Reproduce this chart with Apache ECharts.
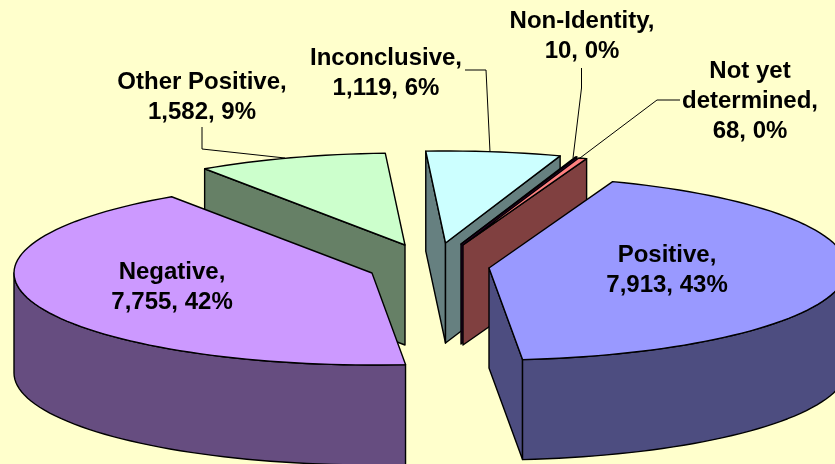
<!DOCTYPE html>
<html>
<head>
<meta charset="utf-8">
<style>
	html, body { margin: 0; padding: 0; background: #ffffcc; }
	#main { width: 835px; height: 464px; }
</style>
<script src="https://cdn.jsdelivr.net/npm/echarts@6/dist/echarts.min.js"></script>
</head>
<body>
<div id="main"></div>
<script>
	// chart values, clockwise from the first slice
	var categories = ['Positive', 'Negative', 'Other Positive', 'Inconclusive', 'Non-Identity', 'Not yet\ndetermined'];
	var values = [7913, 7755, 1582, 1119, 10, 68];

	// look of the slices, same order as categories
	var topColors = ['#9999ff', '#cc99ff', '#ccffcc', '#ccffff', '#660066', '#ff8080'];
	var sideColors = ['#4d4d80', '#664d80', '#668066', '#668080', '#330033', '#804040'];
	var apexX = [489, 372, 405, 445.5, 461, 463];
	var apexY = [268, 273, 245, 243, 244, 245];
	var labelX = [667, 172, 202, 386, 582, 750];
	var labelY = [240, 257, 67, 43, 6, 56];
	var leaderLines = [
		null,
		null,
		[[202, 127], [202, 149], [285, 158]],
		[[465, 70], [486, 70], [490, 152]],
		[[581.5, 68], [581.5, 88], [573, 158]],
		[[680, 100], [657, 100], [580, 158]]
	];
	// slices further back are painted first
	var drawOrder = [2, 3, 4, 5, 1, 0];

	var radiusX = 358, radiusY = 92, depth = 100, startAngle = 20.2;
	var total = values.reduce(function (a, b) { return a + b; }, 0);

	var slices = [];
	var angle = startAngle;
	values.forEach(function (v) {
		slices.push({ from: angle, to: angle + v / total * 360 });
		angle += v / total * 360;
	});

	// angle is clockwise from the top of the pie
	function rim(i, deg, drop) {
		var r = deg * Math.PI / 180;
		return [apexX[i] + radiusX * Math.sin(r), apexY[i] - radiusY * Math.cos(r) + drop];
	}

	function arc(i, from, to, drop) {
		var pts = [];
		var n = Math.max(1, Math.ceil((to - from) / 2));
		for (var k = 0; k <= n; k++) {
			pts.push(rim(i, from + (to - from) * k / n, drop));
		}
		return pts;
	}

	function poly(points, fill, z2) {
		return {
			type: 'polygon',
			z2: z2,
			shape: { points: points },
			style: { fill: fill, stroke: '#000', lineWidth: 1.4, lineJoin: 'round' }
		};
	}

	function renderSlice(params, api) {
		var i = api.value(0);
		var s = slices[i];
		var z = drawOrder.indexOf(i) * 10;
		var apex = [apexX[i], apexY[i]];
		var apexLow = [apexX[i], apexY[i] + depth];
		var side = sideColors[i];
		var children = [];
		// the cut faces, only when they are turned to the viewer
		if (Math.sin(s.from * Math.PI / 180) < 0) {
			children.push(poly([apex, rim(i, s.from, 0), rim(i, s.from, depth), apexLow], side, z));
		}
		if (Math.sin(s.to * Math.PI / 180) > 0) {
			children.push(poly([apex, rim(i, s.to, 0), rim(i, s.to, depth), apexLow], side, z + 1));
		}
		// outer wall, same idea
		var a = Math.max(s.from, 90), b = Math.min(s.to, 270);
		if (b > a) {
			children.push(poly(arc(i, a, b, 0).concat(arc(i, a, b, depth).reverse()), side, z + 2));
		}
		children.push(poly([apex].concat(arc(i, s.from, s.to, 0)), topColors[i], z + 3));
		return { type: 'group', children: children };
	}

	function labelText(i) {
		var pct = Math.round(values[i] / total * 100);
		return categories[i] + ',\n' + values[i].toLocaleString('en-US') + ', ' + pct + '%';
	}

	function renderLabel(params, api) {
		var i = api.value(0);
		var children = [{
			type: 'text',
			style: {
				text: labelText(i),
				x: labelX[i],
				y: labelY[i],
				fill: '#000',
				font: 'bold 24px "Liberation Sans", Arial, sans-serif',
				lineHeight: 30,
				align: 'center',
				verticalAlign: 'top'
			}
		}];
		if (leaderLines[i]) {
			children.push({
				type: 'polyline',
				shape: { points: leaderLines[i] },
				style: { fill: 'none', stroke: '#000', lineWidth: 1 }
			});
		}
		return { type: 'group', children: children };
	}

	var myChart = echarts.init(document.getElementById('main'));
	myChart.setOption({
		backgroundColor: '#ffffcc',
		animation: false,
		series: [
			{
				type: 'custom',
				coordinateSystem: 'none',
				renderItem: renderSlice,
				data: categories.map(function (c, i) { return [i]; }),
				silent: true,
				z: 2
			},
			{
				type: 'custom',
				coordinateSystem: 'none',
				renderItem: renderLabel,
				data: categories.map(function (c, i) { return [i]; }),
				silent: true,
				z: 3
			}
		]
	});
</script>
</body>
</html>
